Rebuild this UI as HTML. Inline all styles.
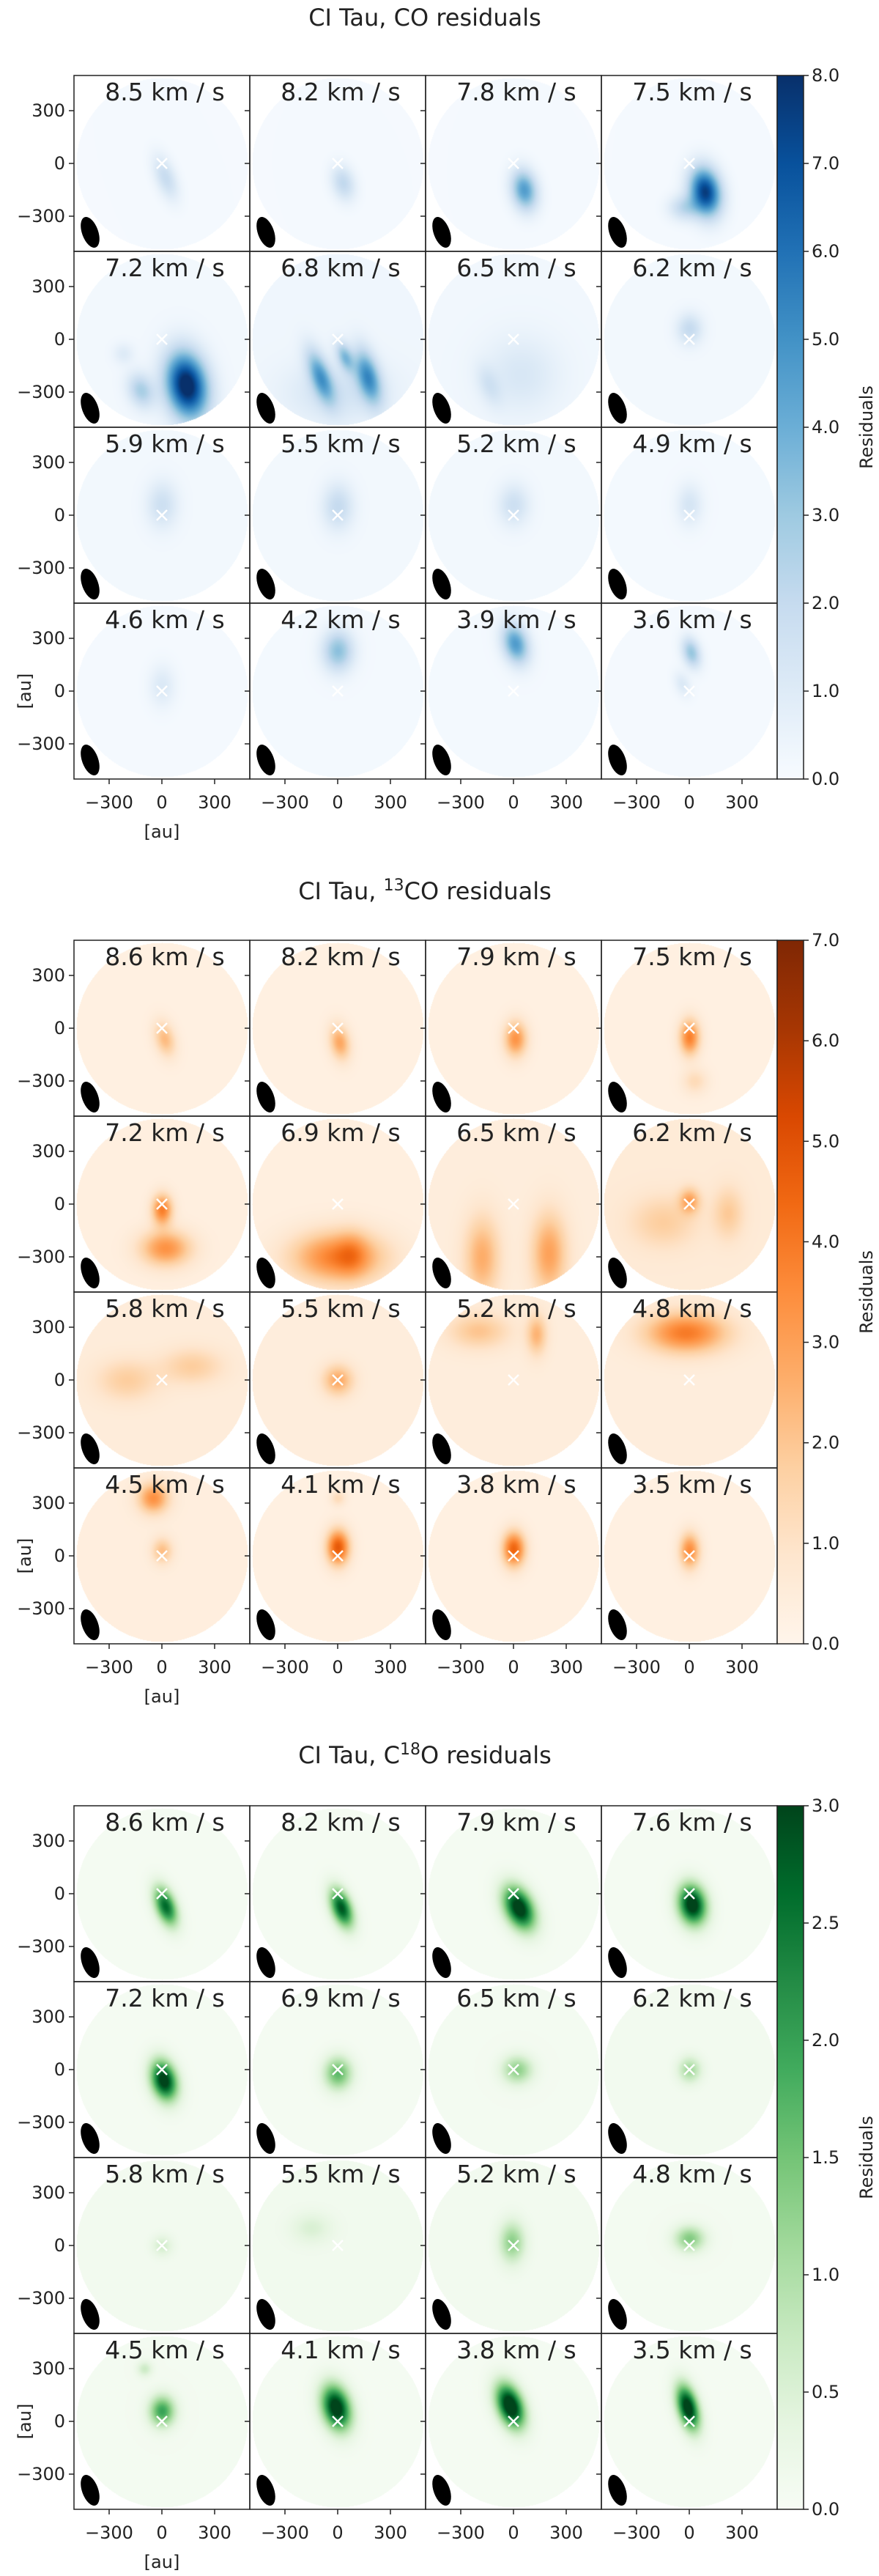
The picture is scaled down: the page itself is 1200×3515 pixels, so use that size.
<!DOCTYPE html>
<html><head><meta charset="utf-8">
<style>
html,body{margin:0;padding:0;background:#fff;}
body{width:1200px;height:3515px;position:relative;overflow:hidden;font-family:"DejaVu Sans","Liberation Sans",sans-serif;}
canvas{position:absolute;}
svg{position:absolute;left:0;top:0;}
</style></head>
<body>
<svg id="fig" width="1200" height="3515"></svg>
<script>
// ---------- data ----------
const sectionTitles = ["CI Tau, CO residuals", "CI Tau, <tspan font-size='22' dy='-12'>13</tspan><tspan dy='12'>CO residuals</tspan>", "CI Tau, C<tspan font-size='22' dy='-12'>18</tspan><tspan dy='12'>O residuals</tspan>"];
const velocitiesCO  = ["8.5","8.2","7.8","7.5","7.2","6.8","6.5","6.2","5.9","5.5","5.2","4.9","4.6","4.2","3.9","3.6"];
const velocities13  = ["8.6","8.2","7.9","7.5","7.2","6.9","6.5","6.2","5.8","5.5","5.2","4.8","4.5","4.1","3.8","3.5"];
const velocities18  = ["8.6","8.2","7.9","7.6","7.2","6.9","6.5","6.2","5.8","5.5","5.2","4.8","4.5","4.1","3.8","3.5"];
const vmaxes = [8, 7, 3];
const cbTicksCO = [0,1,2,3,4,5,6,7,8];
const cbTicks13 = [0,1,2,3,4,5,6,7];
const cbTicks18 = [0,0.5,1,1.5,2,2.5,3];
const cbTickDecimals = [1,1,1];
const axisTicks = [-300, 0, 300];
const bgCO = [0.1,0.1,0.1,0.1,0.2,0.3,0.25,0.2,0.2,0.2,0.2,0.15,0.12,0.15,0.15,0.12];
const bg13 = [0.3,0.3,0.3,0.3,0.35,0.35,0.45,0.6,0.5,0.45,0.45,0.45,0.4,0.3,0.3,0.3];
const bg18 = [0.06,0.06,0.06,0.06,0.06,0.06,0.08,0.1,0.1,0.12,0.1,0.08,0.08,0.06,0.06,0.06];
// blobs: [x_au, y_au, sigma_x_au, sigma_y_au, tilt_deg(top leans left), amplitude]
const blobsCO = [
 [[20,-80,40,90,20,1.8]],
 [[30,-110,45,70,15,2.0]],
 [[60,-150,50,80,10,4.5]],
 [[90,-160,60,95,10,7.5],[-30,-250,60,50,0,2]],
 [[140,-260,80,130,10,8.5],[-120,-290,50,70,20,2.5],[-220,-80,40,40,0,0.8]],
 [[-100,-210,40,110,20,4],[170,-210,45,110,15,4.5],[40,-100,30,60,20,3],[0,-300,200,120,0,1.2]],
 [[40,-200,150,150,0,1.0],[-140,-260,40,80,20,1]],
 [[0,60,50,60,0,1.8]],
 [[0,60,60,90,0,1.5]],
 [[0,50,60,90,0,1.8]],
 [[0,60,60,80,0,1.5]],
 [[0,60,50,80,0,1.2]],
 [[0,30,50,80,0,1.0]],
 [[0,230,60,80,0,3.2]],
 [[10,270,50,80,15,4.5]],
 [[10,220,35,60,15,3.0],[-40,40,30,50,20,1]]
];
const blobs13 = [
 [[15,-60,40,70,15,2.0]],
 [[10,-80,40,70,10,2.5]],
 [[10,-60,45,70,0,3.0]],
 [[0,-50,40,70,0,3.5],[30,-300,50,50,0,1]],
 [[0,-30,40,60,0,3.5],[20,-250,100,70,0,3.0]],
 [[0,-300,180,100,0,3.5],[80,-280,60,90,0,1]],
 [[-180,-300,70,160,0,2.2],[200,-280,70,160,0,2.5]],
 [[0,20,40,50,0,2.2],[-150,-100,130,100,0,1.2],[220,-50,60,100,0,1.3]],
 [[-200,0,120,80,0,1.3],[170,80,120,70,0,1.3]],
 [[0,0,60,60,0,2.3]],
 [[-200,280,120,70,0,1.6],[130,260,40,80,0,2.0]],
 [[-20,270,160,80,0,3.5]],
 [[-50,330,60,60,0,3.0],[0,30,40,50,0,1.8]],
 [[0,50,45,70,0,4.5],[0,330,30,30,0,1]],
 [[0,40,45,70,0,4.2]],
 [[0,30,40,70,0,3.2]]
];
const blobs18 = [
 [[20,-70,40,80,20,2.6]],
 [[20,-80,40,80,20,2.8]],
 [[30,-80,55,90,25,3.3]],
 [[15,-60,55,80,10,3.3]],
 [[10,-60,50,80,15,3.2]],
 [[0,-20,55,65,0,1.6]],
 [[20,0,60,55,0,1.2]],
 [[0,0,45,50,0,1.0]],
 [[0,0,40,40,0,0.5]],
 [[-150,100,80,60,0,0.4]],
 [[-10,20,50,80,0,1.2]],
 [[0,40,60,50,0,1.3]],
 [[0,60,50,60,0,1.9],[-100,300,30,30,0,0.6]],
 [[-10,80,55,90,15,3.3]],
 [[-20,90,50,90,20,3.5]],
 [[-10,80,40,90,15,3.3]]
];
const cmapBlues   = [[247,251,255],[222,235,247],[198,219,239],[158,202,225],[107,174,214],[66,146,198],[33,113,181],[8,81,156],[8,48,107]];
const cmapOranges = [[255,245,235],[254,230,206],[253,208,162],[253,174,107],[253,141,60],[241,105,19],[217,72,1],[166,54,3],[127,39,4]];
const cmapGreens  = [[247,252,245],[229,245,224],[199,233,192],[161,217,155],[116,196,118],[65,171,93],[35,139,69],[0,109,44],[0,68,27]];

// ---------- layout ----------
const GL = 101, PW = 240, GTOPS = [103, 1283, 2464], TITLE_Y = [24, 1216, 2395];
const PX_PER_AU = 72/300, R_PX = 117;
const CB_L = 1061, CB_R = 1097;
const sections = [
 {vel: velocitiesCO, blobs: blobsCO, bg: bgCO, cmap: cmapBlues, ticks: cbTicksCO, name:"co"},
 {vel: velocities13, blobs: blobs13, bg: bg13, cmap: cmapOranges, ticks: cbTicks13, name:"13co"},
 {vel: velocities18, blobs: blobs18, bg: bg18, cmap: cmapGreens, ticks: cbTicks18, name:"c18o"}
];
const NS = "http://www.w3.org/2000/svg";
const svg = document.getElementById('fig');
function el(tag, attrs, parent){ const e=document.createElementNS(NS,tag); for(const k in attrs) e.setAttribute(k,attrs[k]); (parent||svg).appendChild(e); return e; }
function cmap(c, t){ t=Math.max(0,Math.min(1,t)); const f=t*8, i=Math.min(7,Math.floor(f)), r=f-i; return [0,1,2].map(k=>Math.round(c[i][k]+(c[i+1][k]-c[i][k])*r)); }
function xScale(col, au){ return GL + col*PW + PW/2 + au*PX_PER_AU; }
function yScale(top, row, au){ return top + row*PW + PW/2 - au*PX_PER_AU; }

sections.forEach((s, si) => {
  const top = GTOPS[si], vmax = vmaxes[si];
  const cv = document.createElement('canvas');
  cv.width = 960; cv.height = 960; cv.style.left = GL+'px'; cv.style.top = top+'px';
  
  
  document.body.insertBefore(cv, svg);
  const ctx = cv.getContext('2d'); const img = ctx.createImageData(960,960); const d = img.data;
  for (let p=0;p<16;p++){
    const col=p%4,row=Math.floor(p/4), cx=col*PW+PW/2, cy=row*PW+PW/2;
    const bl=s.blobs[p];
    const pre=bl.map(b=>{const a=b[4]*Math.PI/180;return [b[0],b[1],b[2],b[3],Math.cos(a),Math.sin(a),b[5]];});
    for(let py=cy-R_PX;py<=cy+R_PX;py++) for(let px=cx-R_PX;px<=cx+R_PX;px++){
      const ddx=px-cx, ddy=py-cy; if(ddx*ddx+ddy*ddy>R_PX*R_PX) continue;
      const ax=ddx/PX_PER_AU, ay=-ddy/PX_PER_AU;
      let v=s.bg[p];
      for(const b of pre){ const dx=ax-b[0], dy=ay-b[1]; const u=dx*b[4]+dy*b[5], w=-dx*b[5]+dy*b[4]; v+=b[6]*Math.exp(-0.5*((u/b[2])**2+(w/b[3])**2)); }
      const c=cmap(s.cmap, v/vmax); const idx=(py*960+px)*4; d[idx]=c[0];d[idx+1]=c[1];d[idx+2]=c[2];d[idx+3]=255;
    }
  }
  ctx.putImageData(img,0,0);

  const t = el('text',{x:580,y:TITLE_Y[si]+11,'text-anchor':'middle','font-size':32,fill:'#222'});
  t.innerHTML = sectionTitles[si];
  
  

  for (let p=0;p<16;p++){
    const col=p%4,row=Math.floor(p/4);
    const x0=GL+col*PW, y0=top+row*PW;
    const g = el('g',{});
    
    
    const be = el('ellipse',{cx:x0+22,cy:y0+214,rx:11,ry:22,fill:'#000',transform:`rotate(-20 ${x0+22} ${y0+214})`},g);
    
    
    const mx=xScale(col,0), my=yScale(top,row,0);
    const cr = el('path',{d:`M${mx-7} ${my-7}L${mx+7} ${my+7}M${mx+7} ${my-7}L${mx-7} ${my+7}`,stroke:'#fff','stroke-width':2.5},g);
    
    
    const lb = el('text',{x:x0+124,y:y0+34,'text-anchor':'middle','font-size':33,fill:'#222'},g);
    lb.textContent = s.vel[p]+' km / s';
    
    
    el('rect',{x:x0,y:y0,width:PW,height:PW,fill:'none',stroke:'#222','stroke-width':1.5},g);
    axisTicks.forEach(v=>{ const yy=yScale(top,row,v); el('line',{x1:x0-7,x2:x0,y1:yy,y2:yy,stroke:'#222','stroke-width':1.5},g);
      if(col===0){ const tl=el('text',{x:x0-12,y:yy+8,'text-anchor':'end','font-size':24,fill:'#222'},g); tl.textContent=v<0?'\u2212'+(-v):String(v);
          }});
    if(row===3){ axisTicks.forEach(v=>{ const xx=xScale(col,v); el('line',{x1:xx,x2:xx,y1:y0+PW,y2:y0+PW+7,stroke:'#222','stroke-width':1.5},g);
      const tl=el('text',{x:xx,y:y0+PW+40,'text-anchor':'middle','font-size':24,fill:'#222'},g); tl.textContent=v<0?'\u2212'+(-v):String(v);
        }); }
  }
  const xt = el('text',{x:221,y:top+960+80,'text-anchor':'middle','font-size':24,fill:'#222'}); xt.textContent='[au]';
   
  const yt = el('text',{x:0,y:0,'text-anchor':'middle','font-size':24,fill:'#222',transform:`translate(42 ${top+840}) rotate(-90)`}); yt.textContent='[au]';
   

  const gid='cbg'+si; const defs=el('defs',{}); const lg=el('linearGradient',{id:gid,x1:0,y1:1,x2:0,y2:0},defs);
  for(let k=0;k<=8;k++) el('stop',{offset:k/8,'stop-color':`rgb(${s.cmap[k].join(',')})`},lg);
  const cb = el('rect',{x:CB_L,y:top,width:CB_R-CB_L,height:960,fill:`url(#${gid})`,stroke:'#222','stroke-width':1.5});
   
  s.ticks.forEach(v=>{ const yy=top+960-v/vmax*960; el('line',{x1:CB_R,x2:CB_R+7,y1:yy,y2:yy,stroke:'#222','stroke-width':1.5});
    const tl=el('text',{x:CB_R+11,y:yy+8,'font-size':24,fill:'#222'}); tl.textContent=v.toFixed(cbTickDecimals[si]);
      });
  const rl = el('text',{x:0,y:0,'text-anchor':'middle','font-size':24,fill:'#222',transform:`translate(1191 ${top+480}) rotate(-90)`}); rl.textContent='Residuals';
   
});
</script>
</body></html>
